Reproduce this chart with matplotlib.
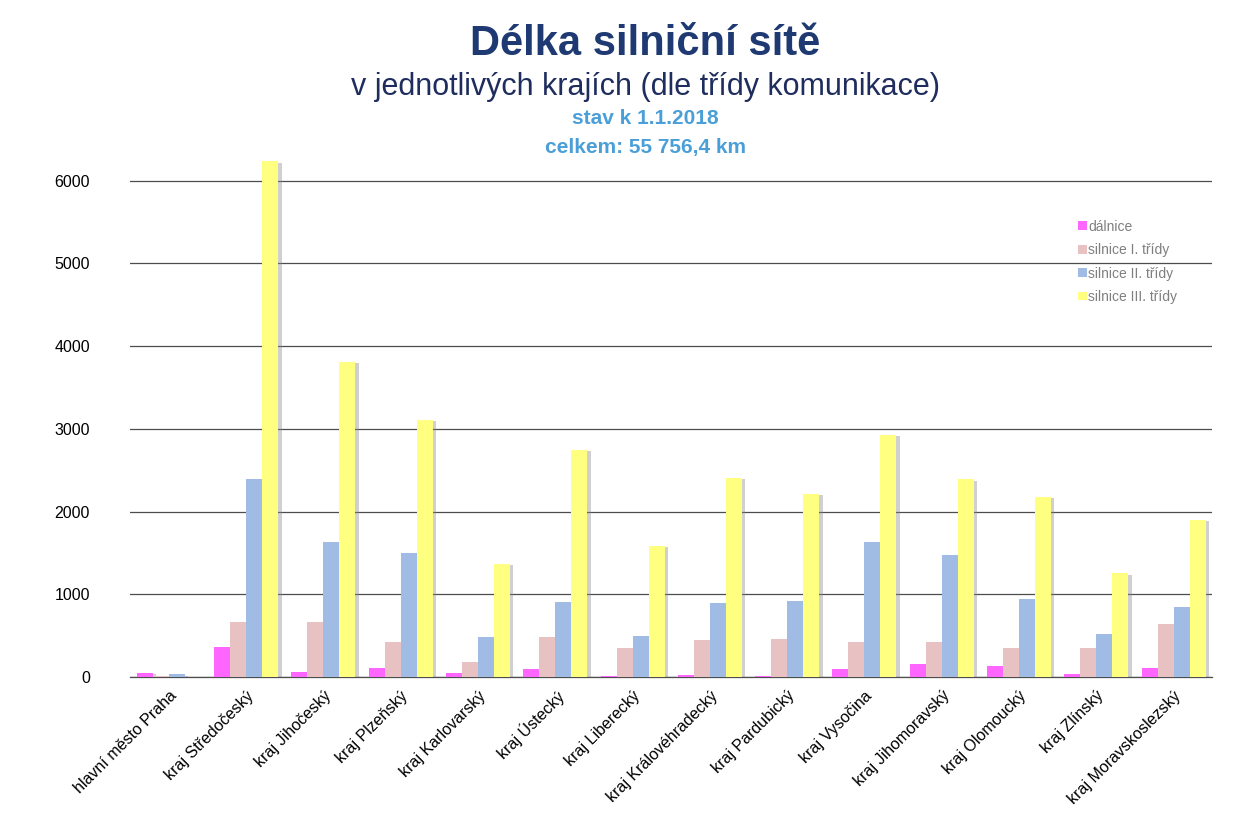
import numpy as np
import matplotlib.pyplot as plt
import matplotlib.patheffects as pe
from matplotlib.patches import Patch

# Data (km)
regions = ['hlavní město Praha', 'kraj Středočeský', 'kraj Jihočeský', 'kraj Plzeňský',
           'kraj Karlovarský', 'kraj Ústecký', 'kraj Liberecký', 'kraj Královéhradecký',
           'kraj Pardubický', 'kraj Vysočina', 'kraj Jihomoravský', 'kraj Olomoucký',
           'kraj Zlínský', 'kraj Moravskoslezský']
dalnice = [52, 359, 64, 113, 45, 97, 12, 24, 16, 100, 161, 133, 36, 105]
silnice_1 = [10, 665, 669, 423, 185, 487, 347, 444, 459, 427, 427, 354, 351, 637]
silnice_2 = [32, 2390, 1629, 1496, 480, 903, 492, 898, 923, 1636, 1475, 947, 524, 850]
silnice_3 = [0, 6236, 3809, 3108, 1366, 2745, 1588, 2410, 2213, 2930, 2390, 2177, 1254, 1898]

series = [dalnice, silnice_1, silnice_2, silnice_3]
labels = ['dálnice', 'silnice I. třídy', 'silnice II. třídy', 'silnice III. třídy']
colors = ['#FF66FF', '#E8C2C2', '#A0BCE4', '#FFFF80']

plt.rcParams['font.family'] = ['Liberation Sans', 'DejaVu Sans']

fig = plt.figure(figsize=(12.51, 8.22), dpi=100)
ax = fig.add_axes([0.104, 0.1764, 0.865, 0.634])

x = np.arange(len(regions))
w = 0.207
shadow = [pe.SimplePatchShadow(offset=(2.5, -1), shadow_rgbFace='#8a8a8a', alpha=0.4), pe.Normal()]
for i, (vals, col) in enumerate(zip(series, colors)):
    bars = ax.bar(x + (i - 1.5) * w, vals, width=w, color=col, zorder=3)
    for b in bars:
        b.set_path_effects(shadow)

ax.set_xlim(-0.5, 13.5)
ax.set_ylim(0, 6300)
ax.set_yticks(range(0, 7000, 1000))
ax.yaxis.grid(True, color='#4d4d4d', linewidth=0.9, zorder=0)
ax.set_axisbelow(True)
for s in ['top', 'right', 'left']:
    ax.spines[s].set_visible(False)
ax.spines['bottom'].set_color('#4d4d4d')
ax.spines['bottom'].set_linewidth(0.9)
ax.tick_params(axis='both', length=0)
ax.tick_params(axis='y', pad=29, labelsize=11.5)
ax.set_xticks(x)
ax.set_xticklabels(regions, rotation=45, ha='right', rotation_mode='anchor', fontsize=11.5)
ax.tick_params(axis='x', pad=8)

handles = [Patch(facecolor=c, edgecolor='none') for c in colors]
ax.legend(handles, labels, loc='upper left', bbox_to_anchor=(0.852, 0.748),
          bbox_transform=fig.transFigure, frameon=False, fontsize=10, labelcolor='#7f7f7f',
          handlelength=0.6, handleheight=0.6, handletextpad=0.1, labelspacing=0.68)

fig.text(0.516, 0.947, 'Délka silniční sítě', ha='center', va='center', fontsize=30,
         fontweight='bold', color='#1F3A73')
fig.text(0.516, 0.894, 'v jednotlivých krajích (dle třídy komunikace)', ha='center', va='center',
         fontsize=22, color='#1F2D5E')
fig.text(0.516, 0.856, 'stav k 1.1.2018', ha='center', va='center', fontsize=15,
         fontweight='bold', color='#4A9FD8')
fig.text(0.516, 0.820, 'celkem: 55 756,4 km', ha='center', va='center', fontsize=15,
         fontweight='bold', color='#4A9FD8')

fig.savefig('out.png', dpi=100)
